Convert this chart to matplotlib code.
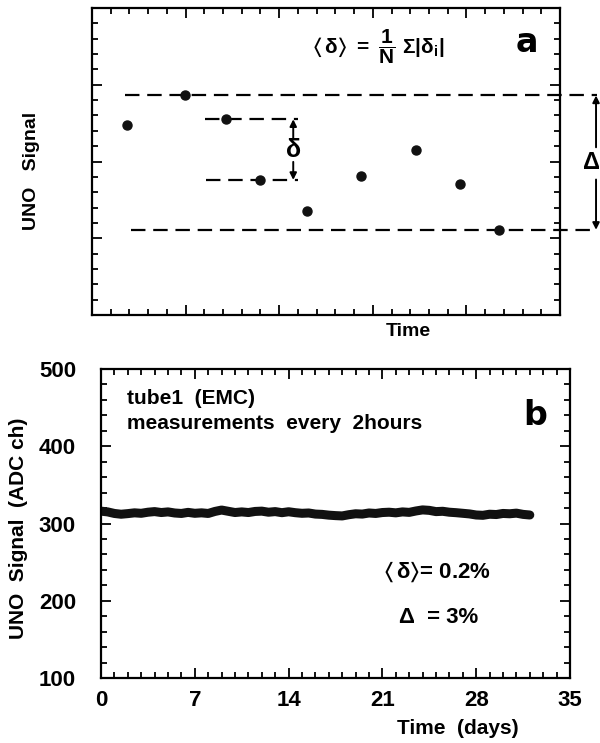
import matplotlib
matplotlib.use('Agg')
import matplotlib.pyplot as plt
import numpy as np
from matplotlib.ticker import MultipleLocator

# (a) sketch of a few readings around the mean
a_time = [0.37, 0.99, 1.43, 1.79, 2.30, 2.87, 3.46, 3.93, 4.35]
a_signal = [2.48, 2.86, 2.55, 1.76, 1.36, 1.81, 2.15, 1.71, 1.11]

# (b) tube1 signal, read every half day
b_days = np.arange(0, 32.5, 0.5)
b_signal = [316.0, 315.0, 313.0, 312.0, 312.8, 313.8, 313.2, 314.6, 315.4, 314.2,
            315.0, 313.6, 313.0, 314.4, 313.2, 313.8, 313.0, 315.6, 317.4, 315.8,
            314.2, 315.0, 314.2, 315.6, 316.0, 314.6, 315.4, 314.0, 315.2, 314.0,
            313.2, 313.6, 312.2, 311.8, 310.8, 310.2, 309.8, 311.4, 312.6, 312.2,
            313.6, 313.0, 314.2, 314.6, 313.8, 315.0, 314.4, 316.2, 317.6, 317.0,
            315.4, 315.8, 314.6, 314.0, 313.2, 312.4, 311.0, 310.6, 312.0, 311.6,
            313.0, 312.6, 313.4, 311.8, 311.0]
b_xticks = [0, 7, 14, 21, 28, 35]
b_yticks = [100, 200, 300, 400, 500]

plt.rcParams['font.family'] = ['Liberation Sans', 'DejaVu Sans']
plt.rcParams['font.weight'] = 'bold'
plt.rcParams['mathtext.fontset'] = 'custom'
for k in ('rm', 'it', 'bf', 'sf'):
    plt.rcParams['mathtext.' + k] = 'Liberation Sans:bold'
plt.rcParams['mathtext.default'] = 'rm'
plt.rcParams['mathtext.fallback'] = 'stixsans'

fig = plt.figure(figsize=(6.0, 7.43), dpi=100)

def style_box(ax):
    for s in ax.spines.values():
        s.set_linewidth(1.6)
    ax.tick_params(which='both', direction='in', top=True, right=True, width=1.3)
    ax.tick_params(which='major', length=7)
    ax.tick_params(which='minor', length=4)

# ---- panel a ----
ax1 = fig.add_axes([92/600, 1-315/743, 468/600, 307/743])
style_box(ax1)
ax1.set_xlim(0, 5)
ax1.set_ylim(0, 4)
ax1.xaxis.set_major_locator(MultipleLocator(1))
ax1.xaxis.set_minor_locator(MultipleLocator(0.2))
ax1.yaxis.set_major_locator(MultipleLocator(1))
ax1.yaxis.set_minor_locator(MultipleLocator(0.2))
ax1.set_xticklabels([])
ax1.set_yticklabels([])

ax1.plot(a_time, a_signal, 'o', color='#111111', ms=6.5, zorder=3)

hi, lo = max(a_signal), min(a_signal)
dash = dict(color='black', lw=1.6, dashes=(6.5, 3.5), clip_on=False)
ax1.plot([0.35, 5.4], [hi, hi], **dash)
ax1.plot([0.42, 5.4], [lo, lo], **dash)
ax1.plot([1.21, 2.2], [a_signal[2], a_signal[2]], **dash)
ax1.plot([1.22, 2.2], [a_signal[3], a_signal[3]], **dash)

arr = dict(arrowstyle='-|>', color='black', lw=1.4, mutation_scale=10,
           shrinkA=0, shrinkB=0)
mid_d = (a_signal[2] + a_signal[3]) / 2
ax1.annotate('', xy=(2.15, a_signal[2]), xytext=(2.15, mid_d + 0.14), arrowprops=arr)
ax1.annotate('', xy=(2.15, a_signal[3]), xytext=(2.15, mid_d - 0.16), arrowprops=arr)
ax1.text(2.15, mid_d, 'δ', ha='center', va='center', fontsize=18)

mid_D = (hi + lo) / 2
ax1.annotate('', xy=(5.385, hi), xytext=(5.385, mid_D + 0.2), arrowprops=arr,
             annotation_clip=False)
ax1.annotate('', xy=(5.385, lo), xytext=(5.385, mid_D - 0.22), arrowprops=arr,
             annotation_clip=False)
ax1.text(5.335, mid_D + 0.0, 'Δ', ha='center', va='center', fontsize=17,
         clip_on=False)

ax1.text(3.06, 3.5, r'$\langle\,δ\rangle\ =\ \dfrac{1}{N}\ Σ|δ_i|$',
         ha='center', va='center', fontsize=15)
ax1.text(4.65, 3.55, 'a', ha='center', va='center', fontsize=24, fontweight='black',
         family='DejaVu Sans')

fig.text(408/600, 1-331/743, 'Time', ha='center', va='center', fontsize=14)
fig.text(32/600, 1-171/743, 'UNO   Signal', ha='center', va='center',
         rotation=90, fontsize=14)

# ---- panel b ----
ax2 = fig.add_axes([101/600, 1-678/743, 469/600, 309/743])
style_box(ax2)
ax2.set_xlim(0, 35)
ax2.set_ylim(100, 500)
ax2.set_xticks(b_xticks)
ax2.set_yticks(b_yticks)
ax2.xaxis.set_minor_locator(MultipleLocator(1))
ax2.yaxis.set_minor_locator(MultipleLocator(20))
ax2.tick_params(axis='y', pad=18, labelsize=16)
ax2.tick_params(axis='x', pad=9, labelsize=16)

ax2.plot(b_days, b_signal, color='#111111', lw=6.5, solid_capstyle='round',
         solid_joinstyle='round')

ax2.text(0.055, 0.905, 'tube1  (EMC)', transform=ax2.transAxes, fontsize=15,
         ha='left', va='center')
ax2.text(0.055, 0.825, 'measurements  every  2hours', transform=ax2.transAxes,
         fontsize=15, ha='left', va='center')
ax2.text(0.925, 0.85, 'b', transform=ax2.transAxes, fontsize=24,
         fontweight='black', family='DejaVu Sans', ha='center', va='center')
ax2.text(0.716, 0.343, r'$\langle\,δ\rangle$= 0.2%', transform=ax2.transAxes,
         fontsize=16, ha='center', va='center')
ax2.text(0.72, 0.197, 'Δ  = 3%', transform=ax2.transAxes,
         fontsize=16, ha='center', va='center')

fig.text(458/600, 1-728/743, 'Time  (days)', ha='center', va='center', fontsize=15)
fig.text(19/600, 1-528/743, 'UNO  Signal  (ADC ch)', ha='center', va='center',
         rotation=90, fontsize=15)

fig.savefig('out.png', dpi=100)
